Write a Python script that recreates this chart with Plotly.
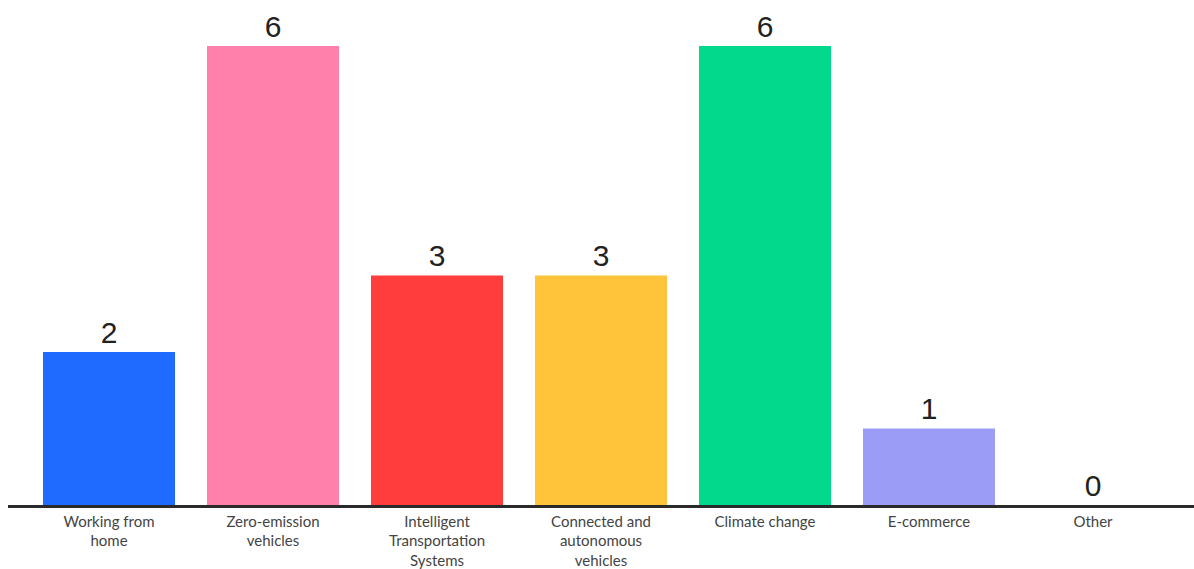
import plotly.graph_objects as go

categories = ["Working from<br>home", "Zero-emission<br>vehicles", "Intelligent<br>Transportation<br>Systems",
              "Connected and<br>autonomous<br>vehicles", "Climate change", "E-commerce", "Other"]
values = [2, 6, 3, 3, 6, 1, 0]
colors = ["#1f6bff", "#ff80aa", "#ff3d3d", "#ffc43a", "#02d98c", "#9b9cf5", "#cccccc"]

fig = go.Figure(go.Bar(
    x=list(range(len(categories))), y=values,
    marker=dict(color=colors, line=dict(width=0)),
    text=[str(v) for v in values], textposition="outside",
    textfont=dict(size=30, color="#222222", family="Liberation Sans"),
    cliponaxis=False,
))
fig.update_layout(
    width=1194, height=569,
    margin=dict(l=8, r=0, t=0, b=64),
    paper_bgcolor="white", plot_bgcolor="white",
    bargap=0.195, showlegend=False,
    font=dict(family="Lato", color="#444444", size=15),
)
fig.update_xaxes(range=[-0.616, 6.616], tickmode="array", tickvals=list(range(len(categories))),
                 ticktext=categories, showline=True, linecolor="#2a2a2a", linewidth=2.5,
                 showgrid=False, ticks="", zeroline=False, ticklabelstandoff=1,
                 tickfont=dict(size=15, color="#444444"))
fig.update_yaxes(range=[0, 6.6], visible=False, showgrid=False, zeroline=False)
fig.write_html("out.html")
